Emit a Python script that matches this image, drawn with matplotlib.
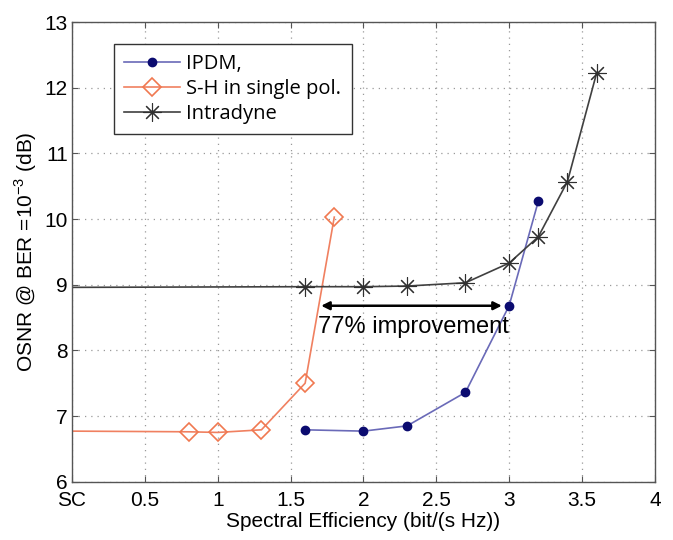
import numpy as np
import matplotlib.pyplot as plt

plt.rcParams['font.family'] = ['Liberation Sans', 'DejaVu Sans']

ipdm_x = [1.6, 2.0, 2.3, 2.7, 3.0, 3.2]
ipdm_y = [6.79, 6.77, 6.85, 7.36, 8.68, 10.27]

sh_x = [0.0, 0.8, 1.0, 1.3, 1.6, 1.8]
sh_y = [6.77, 6.76, 6.75, 6.79, 7.50, 10.03]

intra_x = [0.0, 1.6, 2.0, 2.3, 2.7, 3.0, 3.2, 3.4, 3.6]
intra_y = [8.96, 8.97, 8.97, 8.98, 9.03, 9.33, 9.73, 10.57, 12.22]

xticks = [0, 0.5, 1, 1.5, 2, 2.5, 3, 3.5, 4]
xtick_labels = ['SC', '0.5', '1', '1.5', '2', '2.5', '3', '3.5', '4']
yticks = [6, 7, 8, 9, 10, 11, 12, 13]

fig = plt.figure(figsize=(6.73, 5.4), dpi=100)
ax = fig.add_axes([0.107, 0.108, 0.866, 0.851])

ax.plot(ipdm_x, ipdm_y, color='#6a6ab8', lw=1.2, marker='o', ms=6,
        mfc='#0b0b70', mec='#0b0b70', label='IPDM,')
ax.plot(sh_x, sh_y, color='#f08060', lw=1.2, marker='D', ms=9,
        mfc='none', mec='#f07850', mew=1.2, markevery=list(range(1, len(sh_x))),
        label='S-H in single pol.')
ax.plot(intra_x, intra_y, color='#404040', lw=1.2, marker=(8, 2, 0), ms=13,
        mec='#303030', mew=0.8, markevery=list(range(1, len(intra_x))),
        label='Intradyne')

ax.annotate('', xy=(1.71, 8.68), xytext=(2.95, 8.68),
            arrowprops=dict(arrowstyle='<|-|>', color='black', lw=1.8,
                            mutation_scale=12, shrinkA=0, shrinkB=0))
ax.text(2.34, 8.36, '77% improvement', fontsize=17, ha='center', va='center')

ax.set_xlim(0, 4)
ax.set_ylim(6, 13)
ax.set_xticks(xticks)
ax.set_xticklabels(xtick_labels)
ax.set_yticks(yticks)
ax.tick_params(direction='in', top=True, right=True, labelsize=15, length=4,
               color='#555555', pad=3)
ax.tick_params(axis='x', pad=7)
ax.grid(True, linestyle=(0, (1, 4)), color='#999999', lw=0.9)
for s in ax.spines.values():
    s.set_color('#555555')
    s.set_linewidth(1.0)

ax.set_xlabel('Spectral Efficiency (bit/(s Hz))', fontsize=15, labelpad=1)
ax.set_ylabel(r'OSNR @ BER =10$^{\mathregular{-3}}$ (dB)', fontsize=15, labelpad=4)

leg = ax.legend(loc='upper left', bbox_to_anchor=(0.072, 0.952), borderaxespad=0,
                prop={'family': 'Open Sans', 'size': 14.5}, fancybox=False,
                framealpha=1, edgecolor='#333333', handlelength=2.8,
                handletextpad=0.3, borderpad=0.5, labelspacing=0.25)
leg.get_frame().set_linewidth(1.0)

plt.savefig('out.png', dpi=100)
